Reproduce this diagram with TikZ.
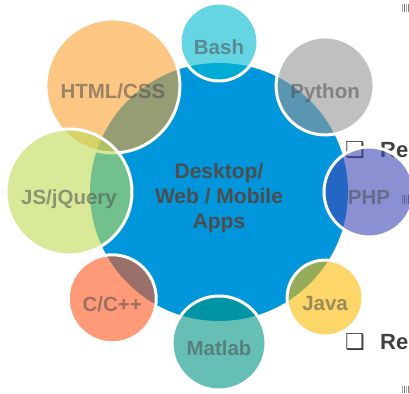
\documentclass[tikz,border=0pt]{standalone}
\usepackage{fontspec}
\setmainfont{Liberation Sans}
\newfontfamily\symfont{DejaVu Sans}
\usepackage{tikz}
\usetikzlibrary{positioning}

\definecolor{appblue}{RGB}{0,150,219}
\definecolor{bashcol}{RGB}{0,185,208}
\definecolor{pycol}{RGB}{150,150,150}
\definecolor{phpcol}{RGB}{60,70,180}
\definecolor{javcol}{RGB}{252,187,7}
\definecolor{matcol}{RGB}{0,148,132}
\definecolor{cppcol}{RGB}{255,87,30}
\definecolor{jscol}{RGB}{190,220,87}
\definecolor{htmlcol}{RGB}{250,160,48}
\definecolor{labgray}{RGB}{77,77,77}
\definecolor{bulgray}{RGB}{64,64,64}

\tikzset{
  bubble/.style={circle, inner sep=0pt, draw=white, line width=3pt,
    fill opacity=0.6, text opacity=0.55, text=labgray,
    font=\bfseries\fontsize{20.5}{24}\selectfont,
    text height=24.6pt, text depth=0pt},
  bullet/.style={inner sep=0pt, text=bulgray, anchor=base west,
    font=\bfseries\fontsize{22}{26}\selectfont},
  handle/.style={line width=0.8pt}
}

\begin{document}
\begin{tikzpicture}[x=1pt, y=1pt]
      \useasboundingbox (-219,-201) rectangle (190,192);
      \clip (-219,-201) rectangle (190,192);
      % leftovers of the slide on the right
      \node[bullet] (BoxA) at (126,34) {\symfont ❑};
      \node[bullet] (ReA) at (161,34) {Re};
      \node[bullet] (BoxB) at (126,-157) {\symfont ❑};
      \node[bullet] (ReB) at (161,-157) {Re};
      \draw[handle, black!35] (183,188) -- (183,180) (183,-3) -- (183,-12) (183,-194) -- (183,-201);
      \draw[handle, black!55] (185,188) -- (185,180) (185,-3) -- (185,-12) (185,-194) -- (185,-201);
      \draw[handle, black!30] (187,188) -- (187,180) (187,-3) -- (187,-12) (187,-194) -- (187,-201);
      \draw[handle, black!50] (189,188) -- (189,180) (189,-3) -- (189,-12) (189,-194) -- (189,-201);
      % centre
      \node[circle, inner sep=0pt, fill=appblue, minimum size=258pt,
        text=labgray, align=center, font=\bfseries\fontsize{21}{25}\selectfont,
        text height=73pt, text depth=0pt]
        (App) at (0,0) {Desktop/\\Web / Mobile\\Apps};
      % satellites
      \node[bubble, fill=bashcol, minimum size=78pt] (Bas) at (90:150) {Bash};
      \node[bubble, fill=htmlcol, minimum size=134pt] (Htm) at (135:150) {HTML/CSS};
      \node[bubble, fill=jscol, minimum size=126pt] (Jsq) at (180:150) {JS/jQuery};
      \node[bubble, fill=cppcol, minimum size=88pt] (Cpp) at (225:151) {C/C++};
      \node[bubble, fill=matcol, minimum size=94pt] (Mat) at (270:151) {Matlab};
      \node[bubble, fill=javcol, minimum size=76pt] (Jav) at (315:150) {Java};
      \node[bubble, fill=phpcol, minimum size=90pt] (Php) at (0:150) {PHP};
      \node[bubble, fill=pycol, minimum size=98pt] (Pyt) at (45:150) {Python};
    \end{tikzpicture}
\end{document}
